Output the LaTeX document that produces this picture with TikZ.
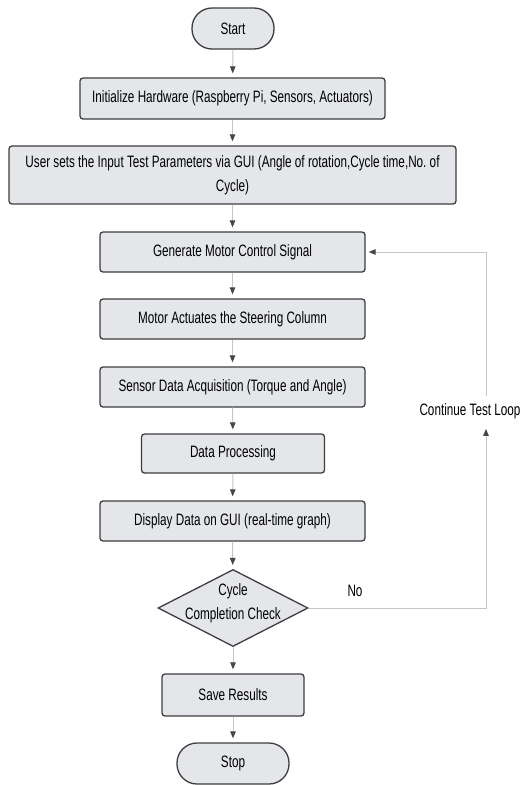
\documentclass[tikz,border=0pt]{standalone}
\usepackage{fontspec}
\setmainfont{Liberation Sans}[FakeStretch=0.71]
\usetikzlibrary{positioning,arrows.meta,shapes.geometric}
\definecolor{boxfill}{RGB}{228,230,234}
\definecolor{boxline}{RGB}{62,62,62}
\definecolor{flowgray}{RGB}{198,198,198}
\definecolor{tipgray}{RGB}{70,70,70}

\tikzset{
  chartfont/.style={font=\fontsize{16.5}{24}\selectfont\frenchspacing},
  process/.style={draw=boxline,fill=boxfill,line width=1.3pt,
                  rounded corners=3pt,inner sep=0pt,align=center,chartfont},
  terminal/.style={process,rounded corners=20pt,minimum height=41pt},
  decision/.style={diamond,draw=boxline,fill=boxfill,line width=1.3pt,
                   inner xsep=-15pt,inner ysep=-5pt,aspect=1.95,
                   minimum width=150pt,minimum height=77pt,align=center,chartfont},
  flow/.style={draw=flowgray,line width=1pt,shorten >=4pt,
               -{Triangle[length=7pt,width=5.5pt,color=tipgray]}},
  edgelabel/.style={chartfont,inner xsep=2pt,inner ysep=7pt}
}

\begin{document}
\begin{tikzpicture}[x=1pt,y=-1pt]
  \useasboundingbox[fill=white] (0,0) rectangle (524,785);

  \node[terminal,minimum width=82pt]  (start)    at (233,28.5)  {Start};
  \node[process,minimum width=305pt,minimum height=41pt] (init) at (232.5,98.5)
    {Initialize Hardware (Raspberry Pi, Sensors, Actuators)};
  \node[process,minimum width=447pt,minimum height=58pt] (params) at (232.5,175)
    {User sets the Input Test Parameters via GUI (Angle of rotation,Cycle time,No. of\\Cycle)};
  \node[process,minimum width=265pt,minimum height=40pt] (generate) at (232.5,252)
    {Generate Motor Control Signal};
  \node[process,minimum width=265pt,minimum height=40pt] (actuate)  at (232.5,319)
    {Motor Actuates the Steering Column};
  \node[process,minimum width=265pt,minimum height=40pt] (acquire)  at (232.5,387)
    {Sensor Data Acquisition (Torque and Angle)};
  \node[process,minimum width=183pt,minimum height=39pt] (processing) at (233,453.5)
    {Data Processing};
  \node[process,minimum width=265pt,minimum height=40pt] (display)  at (232.5,521)
    {Display Data on GUI (real-time graph)};
  \node[decision] (check) at (233,608) {Cycle\\Completion Check\\[-12pt]\mbox{}};
  \node[process,minimum width=142pt,minimum height=42pt] (save) at (233,695)
    {Save Results};
  \node[terminal,minimum width=112pt] (stop) at (233,763.5) {Stop};

  % main flow
  \draw[flow] (start) -- (init);
  \draw[flow] (init) -- (params);
  \draw[flow] (params) -- (generate);
  \draw[flow] (generate) -- (actuate);
  \draw[flow] (actuate) -- (acquire);
  \draw[flow] (acquire) -- (processing);
  \draw[flow] (processing) -- (display);
  \draw[flow] (display) -- (check);
  \draw[flow] (check) -- (save);
  \draw[flow] (save) -- (stop);

  % loop back
  \node[edgelabel] (nolabel)   at (355,591) {No};
  \node[edgelabel] (looplabel) at (470,411) {Continue Test Loop};
  \coordinate (loopcorner) at (486,608);
  \coordinate (loopturn)   at (486,252);
  \draw[flow,shorten >=3pt] (check.east) -- (loopcorner) -- (loopcorner |- looplabel.south);
  \draw[flow,shorten >=3pt] (loopcorner |- looplabel.north) -- (loopturn) -- (generate.east);
\end{tikzpicture}
\end{document}
